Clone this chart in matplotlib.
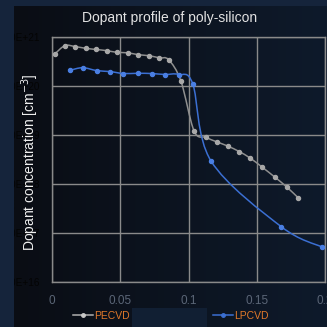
import numpy as np
import matplotlib
matplotlib.use('Agg')
import matplotlib.pyplot as plt
from matplotlib.path import Path
from matplotlib.patches import PathPatch, Rectangle
from matplotlib.lines import Line2D

title = "Dopant profile of poly-silicon"
ylabel = "Dopant concentration [cm$^{-3}$]"
series_names = ["PECVD", "LPCVD"]

pecvd_x = [0.002, 0.0093, 0.0167, 0.0245, 0.032, 0.040, 0.0475, 0.0554, 0.063,
           0.071, 0.0786, 0.0853, 0.0943, 0.104, 0.1127, 0.1208, 0.1289, 0.137,
           0.145, 0.154, 0.163, 0.172, 0.1805]
pecvd_y = [4.5e20, 6.6e20, 6.3e20, 5.8e20, 5.5e20, 5.2e20, 4.8e20, 4.7e20, 4.3e20,
           4.1e20, 3.7e20, 3.4e20, 1.26e20, 1.2e19, 8.9e18, 7.2e18, 5.9e18, 4.6e18,
           3.4e18, 2.2e18, 1.4e18, 8.7e17, 5.2e17]

lpcvd_x = [0.013, 0.0223, 0.0326, 0.0424, 0.0522, 0.0625, 0.073, 0.0825, 0.0927,
           0.103, 0.1164, 0.168, 0.198]
lpcvd_y = [2.07e20, 2.34e20, 2.04e20, 1.95e20, 1.78e20, 1.8e20, 1.78e20, 1.7e20,
           1.7e20, 1.1e20, 2.95e18, 1.35e17, 5.2e16]

x_ticks = [0, 0.05, 0.1, 0.15, 0.2]
x_tick_labels = ["0", "0.05", "0.1", "0.15", "0.2"]
y_ticks = [1e16, 1e17, 1e18, 1e19, 1e20, 1e21]
y_tick_labels = ["1.00E+16", "1.00E+17", "1.00E+18", "1.00E+19", "1.00E+20", "1.00E+21"]

plt.rcParams['font.family'] = ['Liberation Sans', 'DejaVu Sans']

W = H = 327.0
fig = plt.figure(figsize=(3.27, 3.27), dpi=100)
fig.patch.set_facecolor('#15243b')

# inner chart panel with horizontal gradient
bg = fig.add_axes([14 / W, 0, 1 - 14 / W, 1 - 6 / H], zorder=-5)
grad = np.linspace(0, 1, 256)[None, :, None]
c0 = np.array([0x0a, 0x0d, 0x14]) / 255.0
c1 = np.array([0x0e, 0x1a, 0x2b]) / 255.0
img = c0 + (c1 - c0) * grad
bg.imshow(img, aspect='auto', extent=[0, 1, 0, 1])
bg.set_axis_off()

ax = fig.add_axes([52.3 / W, (H - 282.3) / H, (325 - 52.3) / W, (282.3 - 36.7) / H])
ax.set_facecolor('none')
ax.set_yscale('log')
ax.set_xlim(0, 0.2)
ax.set_ylim(1e16, 1e21)


def smooth_path(xs, ys):
    P = np.column_stack([np.asarray(xs, float), np.log10(np.asarray(ys, float))])
    n = len(P)
    verts = [P[0]]
    codes = [Path.MOVETO]
    for i in range(n - 1):
        p0 = P[max(i - 1, 0)]
        p1 = P[i]
        p2 = P[i + 1]
        p3 = P[min(i + 2, n - 1)]
        verts += [p1 + (p2 - p0) / 6.0, p2 - (p3 - p1) / 6.0, p2]
        codes += [Path.CURVE4] * 3
    V = np.array(verts)
    V[:, 1] = 10 ** V[:, 1]
    return Path(V, codes)


gray_line = '#8f8f8f'
gray_mark = '#a8a8a8'
blue_line = '#3b6fd2'
blue_mark = '#4a7fe3'

ax.add_patch(PathPatch(smooth_path(pecvd_x, pecvd_y), facecolor='none',
                       edgecolor=gray_line, lw=1.1, zorder=3))
ax.plot(pecvd_x, pecvd_y, 'o', color=gray_mark, ms=2.9, zorder=4)
ax.add_patch(PathPatch(smooth_path(lpcvd_x, lpcvd_y), facecolor='none',
                       edgecolor=blue_line, lw=1.1, zorder=3))
ax.plot(lpcvd_x, lpcvd_y, 'o', color=blue_mark, ms=2.9, zorder=4)

ax.set_xticks(x_ticks)
ax.set_xticklabels(x_tick_labels)
ax.set_yticks(y_ticks)
ax.set_yticklabels(y_tick_labels)
ax.yaxis.set_minor_locator(matplotlib.ticker.NullLocator())
ax.tick_params(axis='x', length=0, pad=9, labelsize=8.5, labelcolor='#5b6677')
ax.tick_params(axis='y', length=0, pad=9, labelsize=7.2, labelcolor='#040404')
ax.grid(True, which='major', color='#8a8a8a', lw=1.0, zorder=1)
for s in ax.spines.values():
    s.set_color('#8a8a8a')
    s.set_linewidth(1.0)

fig.text(169.5 / W, (H - 18) / H, title, ha='center', va='center',
         fontsize=10, color='#e2e2e2')
fig.text(30 / W, (H - 162.5) / H, ylabel, ha='center', va='center',
         rotation=90, fontsize=10, color='#f0f0f0')

handles = [Line2D([], [], color='#b0b0b0', lw=1.1, marker='o', ms=2.5, markevery=[1],
                  markerfacecolor='#c8c8c8', markeredgecolor='#c8c8c8'),
           Line2D([], [], color=blue_line, lw=1.1, marker='o', ms=2.5, markevery=[1])]
for h in handles:
    h.set_xdata([0, 0.5, 1])
    h.set_ydata([0, 0, 0])
fig.legend(handles, series_names, loc='center', bbox_to_anchor=(171 / W, 11 / H),
           ncol=2, frameon=False, fontsize=7.5, handlelength=1.9, handletextpad=0.15,
           columnspacing=8.0, labelcolor='#e0782a', borderpad=0)

# left navy strip (hides clipped tick labels) and bottom box
fig.add_artist(Rectangle((0, 0), 14 / W, 1, transform=fig.transFigure,
                         facecolor='#15243b', edgecolor='none', zorder=20))
fig.add_artist(Rectangle((0, 1 - 6 / H), 1, 6 / H, transform=fig.transFigure,
                         facecolor='#15243b', edgecolor='none', zorder=20))
fig.add_artist(Rectangle((131.7 / W, 0), (206.7 - 131.7) / W, (327 - 308.3) / H,
                         transform=fig.transFigure, facecolor='#111f33',
                         edgecolor='none', zorder=20))

fig.savefig('out.png', dpi=100, facecolor=fig.get_facecolor())
